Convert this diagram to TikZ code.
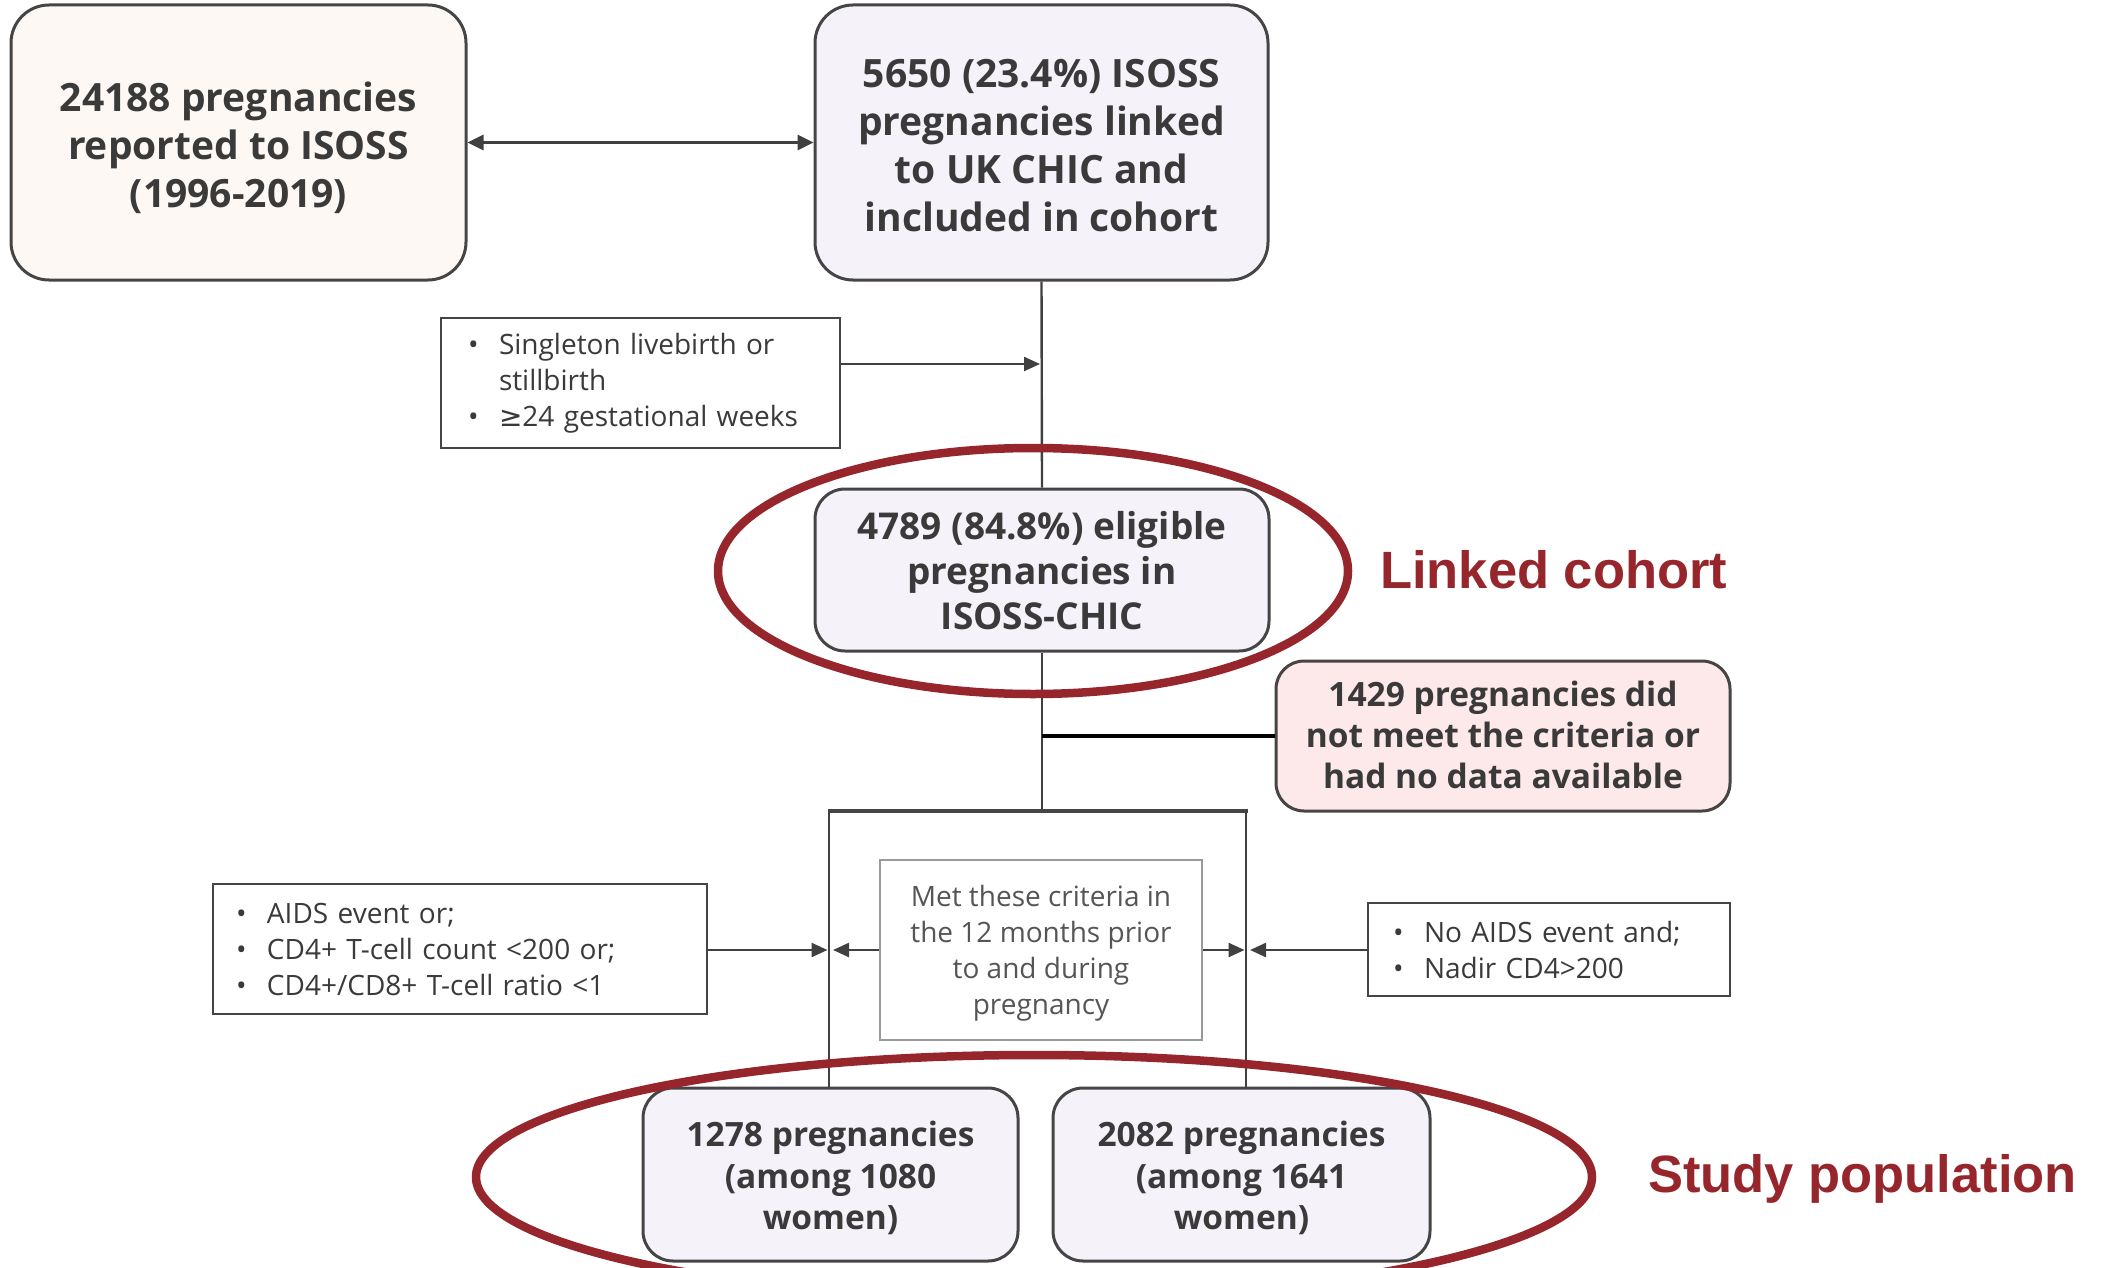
\documentclass[tikz,border=0pt]{standalone}
\usepackage{fontspec}
\setmainfont{Open Sans}
\newfontfamily\arialf{Liberation Sans}
\newfontfamily\dejavu{DejaVu Sans}
\usetikzlibrary{arrows.meta}
\definecolor{creamc}{HTML}{FDF8F3}
\definecolor{lavc}{HTML}{F6F2FA}
\definecolor{pinkc}{HTML}{FDE9EA}
\definecolor{bordc}{HTML}{454545}
\definecolor{txtc}{HTML}{3A3A3A}
\definecolor{ringc}{HTML}{96262C}
\definecolor{linec}{HTML}{404040}
\definecolor{midc}{HTML}{9A9A9A}
\definecolor{midt}{HTML}{555555}
\newcommand{\bl}[1]{\makebox[31pt][l]{•}#1}
\newcommand{\bc}[1]{\makebox[31pt][l]{}#1}
\newcommand{\dn}[2]{\raisebox{0pt}[\dimexpr\height+#1\relax][\depth]{\begin{tabular}{@{}c@{}}#2\end{tabular}}}
\begin{document}
\begin{tikzpicture}[x=1pt,y=-1pt,
  box/.style={draw=bordc, line width=3pt, rounded corners=38pt, text=txtc, align=center, inner sep=0pt},
  crit/.style={draw=bordc, line width=1.6pt, fill=white, text=txtc, align=left, inner ysep=0pt,
    font=\fontsize{28}{36}\selectfont},
  conn/.style={draw=linec, line width=2.4pt},
  arr/.style={conn, -{Triangle[length=16pt,width=14pt]}},
  ring/.style={draw=ringc, line width=8.5pt},
  tag/.style={text=ringc, font=\arialf\bfseries\fontsize{52.5}{60}\selectfont, anchor=west, inner sep=0pt}
]
\useasboundingbox (0,0) rectangle (2101,1268);

% main boxes
\node[box, fill=creamc, minimum width=455pt, minimum height=275pt,
  font=\bfseries\fontsize{39}{48}\selectfont] (A) at (238.5,142.5)
  {\dn{14pt}{24188 pregnancies\\reported to ISOSS\\(1996-2019)}};
\node[box, fill=lavc, minimum width=453pt, minimum height=275pt,
  font=\bfseries\fontsize{39}{48}\selectfont] (B) at (1041.5,142.5)
  {\dn{14pt}{5650 (23.4\%) ISOSS\\pregnancies linked\\to UK CHIC and\\included in cohort}};
\node[box, fill=lavc, rounded corners=30pt, minimum width=454pt, minimum height=162pt,
  font=\bfseries\fontsize{37}{45}\selectfont] (C) at (1042,570)
  {\dn{10pt}{4789 (84.8\%) eligible\\pregnancies in\\ISOSS-CHIC}};
\node[box, fill=pinkc, rounded corners=28pt, minimum width=454pt, minimum height=150pt,
  font=\bfseries\fontsize{33.5}{41}\selectfont] (D) at (1503,736)
  {\dn{7pt}{1429 pregnancies did\\not meet the criteria or\\had no data available}};
\node[box, fill=lavc, rounded corners=30pt, minimum width=375pt, minimum height=173pt,
  font=\bfseries\fontsize{33.5}{41.5}\selectfont] (BL) at (830.5,1174.5)
  {\dn{11pt}{1278 pregnancies\\(among 1080\\women)}};
\node[box, fill=lavc, rounded corners=30pt, minimum width=377pt, minimum height=173pt,
  font=\bfseries\fontsize{33.5}{41.5}\selectfont] (BR) at (1241.5,1174.5)
  {\dn{11pt}{2082 pregnancies\\(among 1641\\women)}};

% criteria boxes
\node[crit, inner xsep=27pt, text width=345pt, minimum height=130pt] (K) at (640.5,383)
  {\bl{Singleton livebirth or}\\\bc{stillbirth}\\\bl{{\dejavu ≥}24 gestational weeks}};
\node[crit, inner xsep=23pt, text width=448pt, minimum height=130pt] (L) at (460,949)
  {\bl{AIDS event or;}\\\bl{CD4+ T-cell count <200 or;}\\\bl{CD4+/CD8+ T-cell ratio <1}};
\node[crit, inner xsep=25pt, text width=312pt, minimum height=93pt] (R) at (1549,949.5)
  {\bl{No AIDS event and;}\\\bl{Nadir CD4>200}};
\node[draw=midc, line width=2.2pt, fill=white, text=midt, align=center, inner sep=0pt,
  minimum width=322pt, minimum height=180pt, font=\fontsize{28}{36}\selectfont] (M) at (1041,950)
  {\dn{6pt}{Met these criteria in\\the 12 months prior\\to and during\\pregnancy}};

% connectors
\draw[conn, line width=3pt, {Triangle[length=16pt,width=15pt]}-{Triangle[length=16pt,width=15pt]}] (A.east) -- (B.west);
\draw[conn] (B.south) -- (C.north);
\coordinate (q1) at (1040,364);
\draw[arr] (K.east |- q1) -- (q1);

\coordinate (bl) at (829,811);
\coordinate (br) at (1246,811);
\coordinate (bm) at (C.south |- bl);
\draw[conn] (C.south) -- (bm);
\draw[line width=3.4pt, black] (D.west -| C.south) -- (D.west);
\draw[draw=bordc, line width=3.2pt] ([xshift=-1.5pt]bl) -- ([xshift=1.5pt]br);
\draw[conn, line width=2.8pt] (bl) -- (bl |- BL.north);
\draw[conn, line width=2.8pt] (br) -- (br |- BR.north);

\draw[arr] (L.east |- M.west) -- ([xshift=-1.5pt]bl |- M.west);
\draw[arr] (M.west) -- ([xshift=4pt]bl |- M.west);
\draw[arr] (M.east) -- ([xshift=-1.5pt]br |- M.east);
\draw[arr] (R.west |- M.east) -- ([xshift=4pt]br |- M.east);

% highlight rings
\draw[ring] (1033,571) ellipse [x radius=315pt, y radius=123pt];
\draw[ring] (1034,1177) ellipse [x radius=558pt, y radius=122pt];
\node[tag] (t1) at (1380,570) {Linked cohort};
\node[tag] (t2) at (1648,1179) {Study population};
\end{tikzpicture}
\end{document}
